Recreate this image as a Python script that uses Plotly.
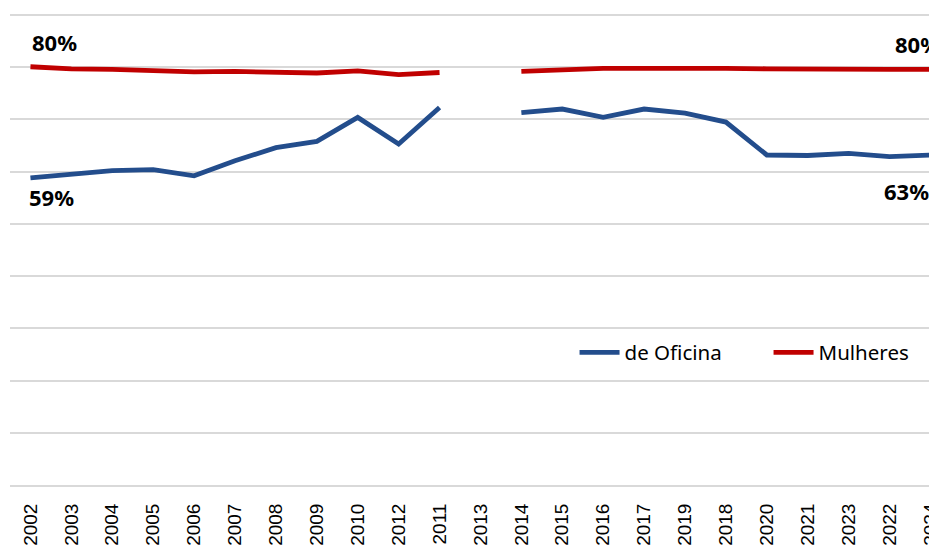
import plotly.graph_objects as go

anos = ['2002', '2003', '2004', '2005', '2006', '2007', '2008', '2009', '2010', '2012',
        '2011', '2013', '2014', '2015', '2016', '2017', '2019', '2018', '2020', '2021',
        '2023', '2022', '2024']

de_oficina = [0.588, 0.594, 0.602, 0.604, 0.592, 0.621, 0.646, 0.658, 0.704, 0.653,
              0.723, None, 0.713, 0.720, 0.704, 0.720, 0.712, 0.695, 0.632, 0.631,
              0.635, 0.629, 0.632]

mulheres = [0.801, 0.797, 0.796, 0.793, 0.791, 0.792, 0.791, 0.789, 0.793, 0.786,
            0.790, None, 0.792, 0.796, 0.798, 0.798, 0.799, 0.798, 0.797, 0.796,
            0.797, 0.796, 0.796]

# rótulos só no primeiro e no último ano: (ano, valor, texto, deslocamento x, deslocamento y)
rotulos = [('2002', 0.801, '80%', 24, 25), ('2002', 0.588, '59%', 21, -19),
           ('2024', 0.796, '80%', -13, 25), ('2024', 0.632, '63%', -24, -36)]

azul = '#234D8C'
vermelho = '#C00000'

fig = go.Figure()
fig.add_trace(go.Scatter(x=anos, y=de_oficina, name='de Oficina', mode='lines',
                         line=dict(color=azul, width=4.8), connectgaps=False))
fig.add_trace(go.Scatter(x=anos, y=mulheres, name='Mulheres', mode='lines',
                         line=dict(color=vermelho, width=4.8), connectgaps=False))

for ano, valor, texto, dx, dy in rotulos:
    # eixo categórico: usar o índice, senão '2002' vira número
    fig.add_annotation(x=anos.index(ano), y=valor, text='<b>' + texto + '</b>',
                       showarrow=False, xshift=dx, yshift=dy,
                       font=dict(family='Noto Sans', size=22, color='#000000'))

# a página tem 8px de margem no corpo, por isso a figura é 8px menor
fig.update_layout(
    width=929, height=542,
    margin=dict(l=2, r=0, t=6, b=65, autoexpand=False),
    plot_bgcolor='white', paper_bgcolor='white',
    showlegend=True,
    legend=dict(orientation='h', x=0.609, y=0.281, xanchor='left', yanchor='middle',
                font=dict(family='Noto Sans', size=20.5, color='#000000'),
                bgcolor='rgba(0,0,0,0)', itemwidth=40, entrywidth=139),
    xaxis=dict(type='category', categoryorder='array', categoryarray=anos,
               range=[-0.5, 22.16], tickangle=-90, showgrid=False, automargin=False,
               showline=True, linecolor='#D9D9D9', linewidth=2,
               ticks='', ticklabelstandoff=9,
               tickfont=dict(family='Liberation Sans', size=19, color='#000000')),
    yaxis=dict(range=[0, 0.902], dtick=0.1, showticklabels=False, showgrid=True,
               gridcolor='#D9D9D9', gridwidth=2, zeroline=False, automargin=False),
)

fig.write_html("out.html")
